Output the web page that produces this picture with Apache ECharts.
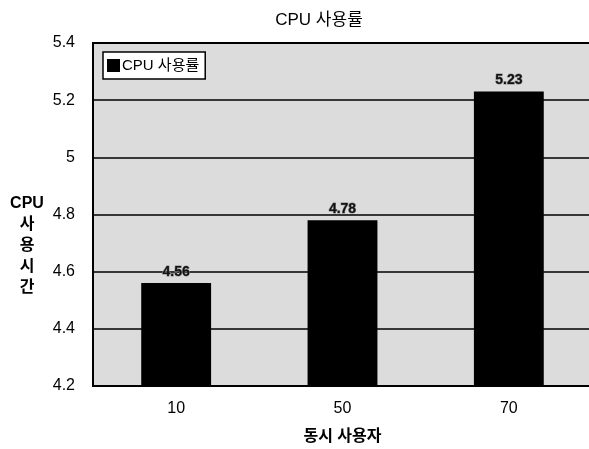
<!DOCTYPE html>
<html>
<head>
<meta charset="utf-8">
<script src="https://cdn.jsdelivr.net/npm/echarts@6/dist/echarts.min.js"></script>
<style>html,body{margin:0;padding:0;background:#fff}#c{width:589px;height:449px}</style>
</head>
<body>
<div id="c"></div>
<script>
const categories = ['10', '50', '70'];
const cpuValues = [4.56, 4.78, 5.23];
const seriesName = 'CPU 사용률';
const titleText = 'CPU 사용률';
const xName = '동시 사용자';
const yName = 'CPU\n사\n용\n시\n간';

const FF = '"Liberation Sans", "Noto Sans CJK KR", sans-serif';
const chart = echarts.init(document.getElementById('c'));
chart.setOption({
  animation: false,
  backgroundColor: '#fff',
  title: {
    text: titleText, left: 314, top: 7, textAlign: 'center',
    textStyle: { fontFamily: FF, fontSize: 17, fontWeight: 'normal', color: '#000' }
  },
  legend: {
    left: 103, top: 52, padding: [6, 6, 6, 4],
    borderColor: '#000', borderWidth: 1.5, backgroundColor: '#fff',
    itemWidth: 13, itemHeight: 13, itemGap: 2,
    icon: 'rect',
    textStyle: { fontFamily: FF, fontSize: 15, color: '#000', padding: [0, 0, 0, -3] },
    data: [seriesName]
  },
  grid: { left: 93, top: 43, width: 499, height: 343, outerBoundsMode: 'none', containLabel: false,
    show: true, backgroundColor: '#dcdcdc', borderColor: '#000', borderWidth: 2 },
  xAxis: {
    type: 'category', data: categories,
    name: xName, nameLocation: 'middle', nameGap: 43,
    nameTextStyle: { fontFamily: FF, fontSize: 16, fontWeight: 'bold', color: '#000' },
    axisLine: { show: true, lineStyle: { color: '#000', width: 2 } },
    axisTick: { show: false },
    axisLabel: { fontFamily: FF, fontSize: 16, color: '#000', margin: 15 }
  },
  yAxis: {
    type: 'value', min: 4.2, max: 5.4, interval: 0.2,
    name: '\n\n\n' + yName, nameLocation: 'middle', nameRotate: 0, nameGap: 66,
    nameTextStyle: { fontFamily: FF, fontSize: 16, fontWeight: 'bold', color: '#000', lineHeight: 21,
      align: 'center', verticalAlign: 'middle' },
    axisLine: { show: true, lineStyle: { color: '#000', width: 2 } },
    axisTick: { show: false },
    axisLabel: { fontFamily: FF, fontSize: 16, color: '#000', margin: 18,
      formatter: v => String(Math.round(v * 10) / 10) },
    splitLine: { show: true, lineStyle: { color: '#000', width: 1.5 } }
  },
  series: [{
    name: seriesName, type: 'bar', data: cpuValues, barWidth: '42%',
    itemStyle: { color: '#000' },
    label: {
      show: true, position: 'top', distance: 4,
      fontFamily: FF, fontSize: 14, fontWeight: 'bold', color: '#111',
      textBorderColor: '#888', textBorderWidth: 1,
      formatter: p => p.value.toFixed(2)
    }
  }]
});
</script>
</body>
</html>
